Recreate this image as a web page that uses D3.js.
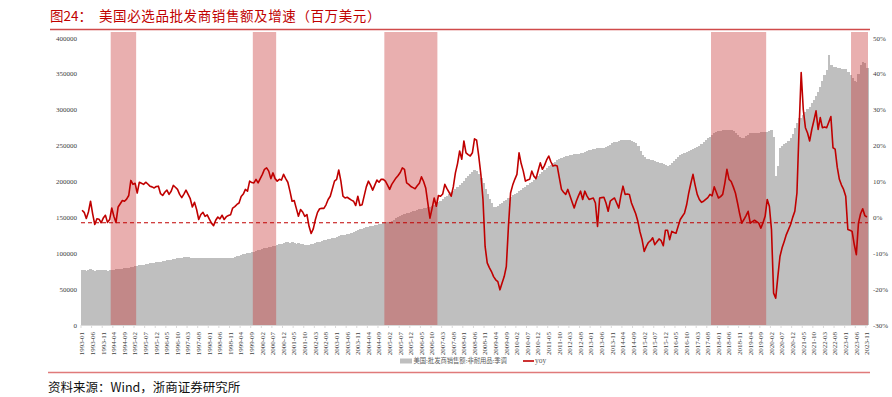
<!DOCTYPE html>
<html>
<head>
<meta charset="utf-8">
<script src="https://cdn.jsdelivr.net/npm/d3@7"></script>
<style>
  body { margin: 0; background: #fff; }
  svg { display: block; }
</style>
</head>
<body>
<svg id="chart"></svg>
<script>
// wholesale sales, non-durables, seasonally adjusted (million USD), 1993-01 .. 2023-11
var salesValues = [
  76700, 76200, 75800, 76500, 77800, 76400, 75900, 76300, 76100, 76600, 76000, 76400,
  75600, 76300, 76900, 77200, 77500, 77800, 78300, 78700, 79100, 79500, 80100, 80600,
  81200, 81800, 82500, 83200, 83700, 84300, 84900, 85400, 85900, 86500, 87000, 87400,
  87800, 88300, 88900, 89400, 90000, 90500, 91000, 91600, 92300, 92900, 93400, 94000,
  94600, 95200, 94500, 93600, 93200, 93800, 93000, 93400, 93600, 93200, 93500, 93800,
  93400, 93600, 93800, 93200, 93500, 93300, 93700, 93900, 93100, 92800, 93400, 94000,
  95000, 95900, 96800, 97600, 98300, 99200, 100100, 101000, 101800, 102400, 103300, 104200,
  105000, 106000, 107000, 107800, 108600, 109300, 110100, 110800, 111500, 112300, 113200, 114300,
  116100, 115500, 114800, 115600, 114200, 113500, 114000, 113100, 112600, 112000, 111500, 111800,
  112600, 113400, 114300, 115200, 116100, 116900, 117800, 118700, 119600, 120400, 120800, 121600,
  122700, 124000, 125400, 125000, 125800, 126700, 127500, 128700, 130000, 131200, 132400, 133300,
  134200, 135000, 135900, 136700, 137500, 138300, 139000, 139800, 140500, 141100, 141500, 141700,
  142900, 144200, 145600, 147000, 148500, 149900, 151300, 152700, 154200, 155700, 156500, 157400,
  158400, 159300, 160200, 161100, 162000, 162600, 163300, 164000, 164900, 166000, 167600, 169600,
  171500, 173300, 175500, 177800, 180200, 182700, 185000, 187200, 189500, 192000, 194700, 197500,
  201000, 204500, 208000, 211000, 213800, 216000, 214000, 211000, 205000, 197500, 190000, 182000,
  175000, 169500, 165000, 164900, 166500, 168500, 170500, 172500, 174500, 176500, 178800, 180500,
  182500, 184500, 186500, 188500, 190500, 192500, 194500, 197500, 199500, 201500, 204000, 207000,
  210000, 213000, 216000, 219000, 221500, 223500, 225500, 227500, 230000, 231500, 233000, 234000,
  235000, 236000, 237000, 237500, 238000, 238500, 239000, 239300, 239300, 240500, 242000, 243900,
  244500, 245000, 245500, 246000, 246300, 246300, 247000, 248500, 250000, 251500, 253000, 254500,
  255500, 256500, 257500, 257900, 258500, 258000, 257500, 256500, 255500, 253000, 249000, 243000,
  237000, 233500, 232000, 231000, 230000, 229500, 229000, 227500, 226000, 225500, 225000, 223500,
  222000, 223000, 226000, 229000, 232000, 234500, 236500, 238500, 240000, 241500, 243000, 244500,
  245500, 246300, 247500, 249500, 252000, 255000, 258000, 260500, 262500, 264500, 267000, 269500,
  270500, 271000, 271500, 272000, 271800, 272000, 271500, 270000, 268000, 265000, 261500, 260200,
  261000, 263000, 265500, 267200, 268000, 267500, 267000, 268000, 268500, 269000, 269500, 269500,
  270500, 272000, 262000, 207000, 222000, 246000, 250000, 252500, 254000, 256000, 261000, 266000,
  275000, 282000, 288100, 289000, 292000, 297000, 301000, 304300, 309000, 314000, 319000, 325000,
  332000, 340000, 348000, 356000, 376000, 362000, 360000, 359000, 358000, 357500, 357000, 356500,
  356400, 352000, 348000, 344000, 340000, 339000, 350000, 362000, 367000, 365000, 358000
];

// year-on-year growth, %
var yoyValues = [
  2.0, 1.4, -0.3, 1.5, 4.5, 1.0, -2.0, -0.4, -0.5, -1.5, -0.2, 0.6,
  -1.4, -0.6, 2.6, 0.3, -1.4, 2.9, 3.8, 4.7, 4.5, 5.1, 6.1, 10.3,
  9.2, 9.5, 6.8, 9.8, 9.5, 9.2, 9.8, 9.3, 8.7, 8.5, 8.2, 8.6,
  8.7, 6.6, 6.1, 7.0, 7.6, 6.4, 7.3, 8.9, 8.4, 7.8, 6.4, 5.5,
  6.5, 7.6, 6.4, 5.2, 2.9, 4.2, 2.2, -0.6, 0.8, 1.4, 0.3, 0.7,
  -0.5, -1.6, -2.3, -0.8, 0.1, -0.4, 0.6, -0.6, 0.2, 0.5, 0.7, 2.6,
  3.0, 3.6, 4.0, 5.8, 6.5, 7.8, 7.3, 10.1, 9.7, 9.6, 10.6, 9.6,
  10.8, 12.0, 13.4, 13.8, 12.9, 10.8, 12.4, 10.8, 10.1, 10.6, 10.4, 12.0,
  10.8, 9.8, 7.3, 4.5, 4.7, 2.5, 0.3, 2.2, 1.5, 0.3, 0.8, -2.5,
  -4.5, -3.2, -0.6, 1.4, 2.4, 2.5, 2.5, 3.5, 5.0, 5.9, 8.0, 10.1,
  10.6, 13.2, 10.2, 5.9, 5.4, 5.6, 5.2, 4.8, 4.5, 3.3, 5.9, 3.3,
  3.5, 6.0, 8.5, 10.1, 9.0, 7.6, 9.0, 10.4, 9.8, 10.6, 10.6, 10.1,
  9.0, 7.8, 9.2, 10.1, 11.0, 11.7, 12.5, 13.8, 13.4, 9.6, 9.2, 8.6,
  8.3, 8.0, 8.8, 9.5, 11.3, 10.0, 8.2, 4.0, -0.2, 2.5, 5.4, 3.1,
  6.1, 5.9, 6.5, 9.2, 8.0, 7.0, 5.9, 8.5, 12.4, 15.0, 18.5, 16.2,
  21.3, 18.0, 17.5, 17.1, 18.0, 21.9, 21.5, 17.1, 12.0, 5.0, -8.1, -12.7,
  -14.0, -15.1, -16.5, -17.4, -17.9, -20.2, -18.3, -16.5, -13.7, -2.5, 6.8, 9.0,
  10.6, 12.0, 18.0, 15.0, 12.9, 10.1, 10.4, 10.6, 12.9, 11.5, 10.8, 13.0,
  15.2, 13.4, 14.5, 16.0, 17.1, 15.5, 14.3, 14.5, 14.3, 11.0, 7.8, 7.0,
  6.4, 7.8, 6.0, 4.3, 2.6, 4.5, 6.0, 7.3, 5.0, 7.3, 6.0, 5.0,
  5.2, 5.4, 4.0, -2.5, 5.4, 5.5, 5.6, 4.0, 1.7, 4.5, 5.0, 5.4,
  4.0, 2.6, 6.0, 8.7, 6.4, 6.5, 6.4, 4.0, 2.5, 1.0, -1.1, -4.0,
  -6.2, -9.5, -8.1, -7.0, -6.5, -5.7, -7.6, -6.8, -6.0, -6.5, -7.9, -3.6,
  -3.6, -6.2, -3.9, -4.2, -4.4, -2.5, -0.6, 0.3, 1.2, 3.5, 6.8, 9.5,
  12.0, 9.0, 6.4, 5.0, 4.2, 4.5, 5.0, 5.5, 6.4, 6.0, 8.5, 7.0,
  5.4, 5.8, 6.4, 9.5, 13.4, 10.6, 10.0, 8.5, 6.8, 4.0, 1.0, -1.6,
  -0.6, 0.5, 1.7, -1.6, -1.2, -0.8, -1.2, -1.6, -3.0, -1.5, 0.3, 5.0,
  3.1, -3.4, -21.1, -22.5, -16.5, -10.9, -8.5, -6.7, -4.8, -3.4, -2.0, 0.0,
  1.7, 6.8, 24.5, 40.4, 30.0, 25.0, 23.5, 21.3, 24.5, 27.0, 29.7, 24.5,
  27.8, 25.0, 25.2, 25.0, 26.5, 28.1, 19.4, 19.0, 14.0, 10.6, 9.0, 7.8,
  5.9, -3.4, -3.6, -3.9, -7.5, -10.4, -1.6, 1.0, 2.4, 0.5, 0.1
];

// shaded periods (first and last month)
var shadeStarts = ["1994-03", "1999-10", "2004-12", "2017-10", "2023-04"];
var shadeEnds   = ["1995-02", "2000-08", "2006-12", "2019-11", "2023-11"];

var leftTicks  = [0, 50000, 100000, 150000, 200000, 250000, 300000, 350000, 400000];
var rightTicks = [-30, -20, -10, 0, 10, 20, 30, 40, 50];
var refLevel = -1.5;   // dashed reference line, % axis

var titleNo = "图24：";
var titleText = "美国必选品批发商销售额及增速（百万美元）";
var sourceText = "资料来源：Wind，浙商证券研究所";
var salesName = "美国:批发商销售额:非耐用品:季调";
var yoyName = "yoy";

// month categories
var months = d3.timeMonth.range(new Date(1993, 0, 1), new Date(2023, 11, 1))
    .map(d3.timeFormat("%Y-%m"));

var width = 892, height = 397;
var plotLeft = 81, plotRight = 868, plotTop = 32, plotBottom = 325;
var red = "#c00000";

var svg = d3.select("#chart").attr("width", width).attr("height", height);

// title and rules
svg.append("text").attr("x", 50).attr("y", 21)
    .attr("font-family", "Noto Sans CJK SC").attr("font-size", "13.5px")
    .attr("fill", red).text(titleNo);
svg.append("text").attr("x", 99).attr("y", 21)
    .attr("font-family", "Noto Sans CJK SC").attr("font-size", "13.5px")
    .attr("fill", red).attr("letter-spacing", "0.6px").text(titleText);
svg.append("line").attr("x1", 50).attr("x2", 870).attr("y1", 29.5).attr("y2", 29.5)
    .attr("stroke", "#d04a4a").attr("stroke-width", 1.5);
svg.append("line").attr("x1", 48).attr("x2", 870).attr("y1", 372.5).attr("y2", 372.5)
    .attr("stroke", "#e07a7a").attr("stroke-width", 1.5);
svg.append("text").attr("x", 48).attr("y", 392)
    .attr("font-family", "Noto Sans CJK SC").attr("font-size", "12.5px")
    .attr("fill", "#111").text(sourceText);

// scales
var x = d3.scaleBand().domain(months).range([plotLeft, plotRight]).padding(0);
var y = d3.scaleLinear().domain([0, 400000]).range([plotBottom, 38]);
var y2 = d3.scaleLinear().domain([-30, 50]).range([plotBottom, 38]);
var bw = x.bandwidth();

var data = months.map(function (m, i) {
    return { month: m, sales: salesValues[i], yoy: yoyValues[i] };
});

// grey bars
svg.append("g").attr("shape-rendering", "crispEdges").selectAll("rect")
    .data(data)
    .enter().append("rect")
    .attr("x", function (d) { return x(d.month); })
    .attr("width", bw + 0.6)
    .attr("y", function (d) { return y(d.sales); })
    .attr("height", function (d) { return y(0) - y(d.sales); })
    .attr("fill", "#bfbfbf");

// shaded periods
svg.append("g").selectAll("rect")
    .data(shadeStarts)
    .enter().append("rect")
    .attr("x", function (d) { return x(d); })
    .attr("width", function (d, i) { return x(shadeEnds[i]) + bw - x(d); })
    .attr("y", plotTop)
    .attr("height", plotBottom - plotTop)
    .attr("fill", "rgb(200,55,55)")
    .attr("fill-opacity", 0.4);

// x axis line + ticks
var tickMonths = months.filter(function (d, i) { return i % 5 === 0; });
svg.append("line").attr("x1", plotLeft).attr("x2", plotRight)
    .attr("y1", plotBottom + 0.5).attr("y2", plotBottom + 0.5)
    .attr("stroke", "#d9d9d9").attr("stroke-width", 1);
svg.append("g").selectAll("line")
    .data(tickMonths)
    .enter().append("line")
    .attr("x1", function (d) { return x(d); })
    .attr("x2", function (d) { return x(d); })
    .attr("y1", plotBottom).attr("y2", plotBottom + 3)
    .attr("stroke", "#d9d9d9");
svg.append("g").selectAll("text")
    .data(tickMonths)
    .enter().append("text")
    .attr("transform", function (d) {
        return "translate(" + (x(d) + bw / 2 + 2.3) + "," + (plotBottom + 7) + ")rotate(-90)";
    })
    .attr("text-anchor", "end")
    .attr("font-family", "Liberation Serif").attr("font-size", "7px")
    .attr("fill", "#404040")
    .text(function (d) { return d; });

// left and right tick labels
svg.append("g").selectAll("text")
    .data(leftTicks)
    .enter().append("text")
    .attr("x", 77).attr("y", function (d) { return y(d) + 2.5; })
    .attr("text-anchor", "end")
    .attr("font-family", "Liberation Serif").attr("font-size", "7px")
    .attr("fill", "#404040")
    .text(function (d) { return d; });
svg.append("g").selectAll("text")
    .data(rightTicks)
    .enter().append("text")
    .attr("x", 873).attr("y", function (d) { return y2(d) + 2.5; })
    .attr("font-family", "Liberation Serif").attr("font-size", "7px")
    .attr("fill", "#404040")
    .text(function (d) { return d + "%"; });

// dashed reference
svg.append("line")
    .attr("x1", plotLeft).attr("x2", plotRight)
    .attr("y1", y2(refLevel)).attr("y2", y2(refLevel))
    .attr("stroke", red).attr("stroke-width", 1)
    .attr("stroke-dasharray", "4,3");

// yoy line
var line = d3.line()
    .x(function (d) { return x(d.month) + bw / 2; })
    .y(function (d) { return y2(d.yoy); });
svg.append("path")
    .datum(data)
    .attr("d", line)
    .attr("fill", "none")
    .attr("stroke", red)
    .attr("stroke-width", 1.6)
    .attr("stroke-linejoin", "round");

// legend
var lg = svg.append("g").attr("transform", "translate(400,361)");
lg.append("rect").attr("x", 0).attr("y", -2.5).attr("width", 12).attr("height", 5).attr("fill", "#bfbfbf");
lg.append("text").attr("x", 13.5).attr("y", 2.3)
    .attr("font-family", "Noto Sans CJK SC").attr("font-size", "6.3px")
    .attr("fill", "#595959").text(salesName);
lg.append("line").attr("x1", 123).attr("x2", 134).attr("y1", 0).attr("y2", 0)
    .attr("stroke", red).attr("stroke-width", 1.6);
lg.append("text").attr("x", 135).attr("y", 2.3)
    .attr("font-family", "Liberation Serif").attr("font-size", "7.5px")
    .attr("fill", "#595959").text(yoyName);
</script>
</body>
</html>
